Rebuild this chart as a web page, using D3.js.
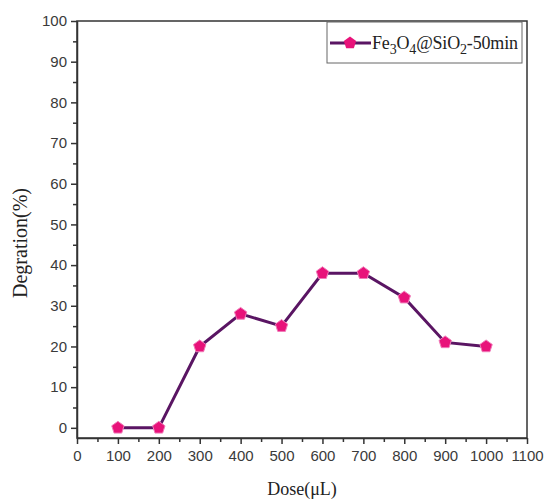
<!DOCTYPE html>
<html>
<head>
<meta charset="utf-8">
<script src="https://cdn.jsdelivr.net/npm/d3@7"></script>
<style>
body { margin: 0; background: #fff; }
</style>
</head>
<body>
<svg></svg>
<script>
const doses = [100, 200, 300, 400, 500, 600, 700, 800, 900, 1000]
const degration = [0, 0, 20, 28, 25, 38, 38, 32, 21, 20]
const xTicks = [0, 100, 200, 300, 400, 500, 600, 700, 800, 900, 1000, 1100]
const yTicks = [0, 10, 20, 30, 40, 50, 60, 70, 80, 90, 100]

let width = 544
let height = 502
let padLeft = 77, padRight = 527, padTop = 21, padBottom = 438

let svg = d3.select("svg").attr('width', width).attr('height', height)

let xScale = d3.scaleLinear().domain([0, 1100]).range([padLeft, padRight])
let yScale = d3.scaleLinear().domain([-2.5, 100]).range([padBottom, padTop])

// frame
svg.append('rect')
    .attr('x', padLeft).attr('y', padTop)
    .attr('width', padRight - padLeft).attr('height', padBottom - padTop)
    .attr('fill', 'none').attr('stroke', '#333').attr('stroke-width', 1.5)

// minor ticks
let minorX = d3.range(50, 1100, 100)
let minorY = d3.range(5, 100, 10)

let styleTicks = (g) => {
    g.select('.domain').attr('stroke', '#333').attr('stroke-width', 1.5)
    g.selectAll('.tick line').attr('stroke', '#333').attr('stroke-width', 1.5)
    g.selectAll('.tick text')
        .attr('font-family', '"Liberation Sans", Arial, sans-serif')
        .attr('font-size', 15)
        .attr('fill', '#3a3a3a')
}

let xAxis = d3.axisBottom(xScale).tickValues(xTicks).tickFormat(d3.format('d'))
    .tickSize(6).tickSizeOuter(0).tickPadding(6)
svg.append('g')
    .attr('transform', 'translate(0,' + padBottom + ')')
    .call(xAxis)
    .call(styleTicks)
svg.append('g')
    .attr('transform', 'translate(0,' + padBottom + ')')
    .call(d3.axisBottom(xScale).tickValues(minorX).tickSize(4).tickFormat(''))
    .call(g => g.select('.domain').remove())
    .selectAll('.tick line').attr('stroke', '#333').attr('stroke-width', 1.5)

let yAxis = d3.axisLeft(yScale).tickValues(yTicks).tickFormat(d3.format('d'))
    .tickSize(6).tickSizeOuter(0).tickPadding(4)
svg.append('g')
    .attr('transform', 'translate(' + padLeft + ',0)')
    .call(yAxis)
    .call(styleTicks)
svg.append('g')
    .attr('transform', 'translate(' + padLeft + ',0)')
    .call(d3.axisLeft(yScale).tickValues(minorY).tickSize(4).tickFormat(''))
    .call(g => g.select('.domain').remove())
    .selectAll('.tick line').attr('stroke', '#333').attr('stroke-width', 1.5)

// axis titles
svg.append('text')
    .attr('x', 302).attr('y', 495)
    .attr('text-anchor', 'middle')
    .attr('font-family', '"Liberation Serif", "Times New Roman", serif')
    .attr('font-size', 18)
    .attr('fill', '#222')
    .text('Dose(\u03bcL)')

svg.append('text')
    .attr('transform', 'translate(27,' + 243 + ') rotate(-90)')
    .attr('text-anchor', 'middle')
    .attr('font-family', '"Liberation Serif", "Times New Roman", serif')
    .attr('font-size', 20)
    .attr('fill', '#222')
    .text('Degration(%)')

// line
let points = doses.map((d, i) => [d, degration[i]])
let line = d3.line().x(d => xScale(d[0])).y(d => yScale(d[1]))
svg.append('path')
    .datum(points)
    .attr('d', line)
    .attr('fill', 'none')
    .attr('stroke', '#5a1563')
    .attr('stroke-width', 3)

let pentPath = (r) => {
    let pts = d3.range(5).map(k => {
        let a = -Math.PI / 2 + k * 2 * Math.PI / 5
        return [r * Math.cos(a), r * Math.sin(a)]
    })
    return 'M' + pts.join('L') + 'Z'
}

svg.selectAll('.marker')
    .data(points)
    .enter()
    .append('path')
    .attr('class', 'marker')
    .attr('d', pentPath(6.5))
    .attr('transform', d => 'translate(' + xScale(d[0]) + ',' + yScale(d[1]) + ')')
    .attr('fill', '#e8127a')
    .attr('stroke', '#f07ab8')
    .attr('stroke-width', 1)

// legend
let lg = svg.append('g')
lg.append('rect')
    .attr('x', 327).attr('y', 22).attr('width', 195).attr('height', 41)
    .attr('fill', '#fff').attr('stroke', '#666').attr('stroke-width', 1)
lg.append('line')
    .attr('x1', 330).attr('x2', 371).attr('y1', 43).attr('y2', 43)
    .attr('stroke', '#5a1563').attr('stroke-width', 3)
lg.append('path')
    .attr('d', pentPath(6.5))
    .attr('transform', 'translate(350,43)')
    .attr('fill', '#e8127a')
let lt = lg.append('text')
    .attr('x', 372).attr('y', 49)
    .attr('font-family', '"Liberation Serif", "Times New Roman", serif')
    .attr('font-size', 18)
    .attr('textLength', 146)
    .attr('fill', '#222')
lt.append('tspan').text('Fe')
lt.append('tspan').attr('dy', 5).attr('font-size', 14).text('3')
lt.append('tspan').attr('dy', -5).text('O')
lt.append('tspan').attr('dy', 5).attr('font-size', 14).text('4')
lt.append('tspan').attr('dy', -5).text('@SiO')
lt.append('tspan').attr('dy', 5).attr('font-size', 14).text('2')
lt.append('tspan').attr('dy', -5).text('-50min')
</script>
</body>
</html>
